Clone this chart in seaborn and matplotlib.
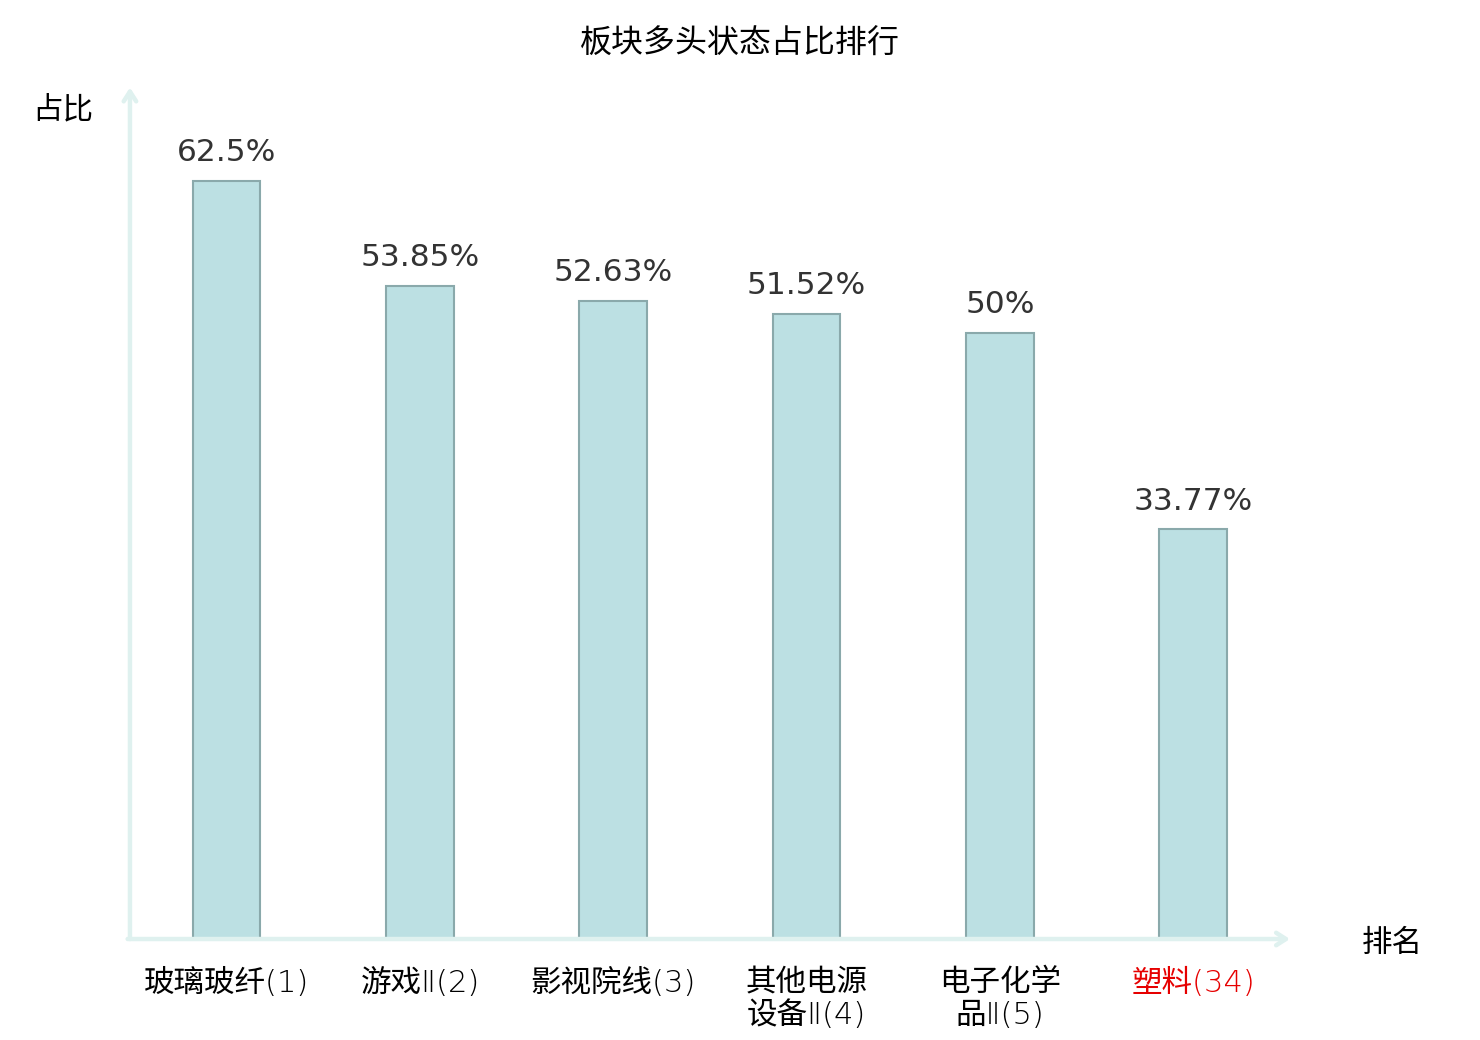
import seaborn as sns
import matplotlib.pyplot as plt
import pandas as pd

# bull-state share by sector, ranked
sectors = ["玻璃玻纤(1)", "游戏Ⅱ(2)", "影视院线(3)", "其他电源\n设备Ⅱ(4)", "电子化学\n品Ⅱ(5)", "塑料(34)"]
shares = [62.5, 53.85, 52.63, 51.52, 50.0, 33.77]
share_labels = ["62.5%", "53.85%", "52.63%", "51.52%", "50%", "33.77%"]

sns.set_style("white")
plt.rcParams["font.family"] = ["Noto Sans CJK SC", "DejaVu Sans"]

AXIS_COLOR = "#dff1ef"
BAR_COLOR = "#bce0e3"
EDGE_COLOR = "#8aa9ab"

df = pd.DataFrame({"sector": sectors, "share": shares})

fig = plt.figure(figsize=(14.8, 10.4), dpi=100)
ax = fig.add_axes([0.0878, 0.0971, 0.7838, 0.8163])

sns.barplot(
    data=df,
    x="sector",
    y="share",
    color=BAR_COLOR,
    saturation=1,
    width=0.35,
    edgecolor=EDGE_COLOR,
    linewidth=1.5,
    ax=ax,
)

ax.set_xlim(-0.5, 5.5)
ax.set_ylim(0, 70)

# value labels above bars
for i, (v, lab) in enumerate(zip(shares, share_labels)):
    ax.annotate(
        lab,
        (i, v),
        xytext=(0, 10),
        textcoords="offset points",
        ha="center",
        va="bottom",
        fontsize=22.5,
        color="#333333",
        family=["DejaVu Sans"],
    )

for s in ax.spines.values():
    s.set_visible(False)
ax.set_yticks([])
ax.set_xlabel("")
ax.set_ylabel("")
ax.tick_params(axis="x", length=0, pad=21, colors="black")
for t in ax.get_xticklabels():
    t.set_linespacing(1.15)
    t.set_fontsize(22)
    t.set_family(["DejaVu Sans", "Noto Sans CJK SC"])
    t.set_fontweight(200)
ax.get_xticklabels()[-1].set_color("#e60000")

# axis arrows
arrow = dict(arrowstyle="->,head_length=0.7,head_width=0.45", color=AXIS_COLOR, lw=3.2,
             shrinkA=0, shrinkB=0)
ax.annotate("", xy=(0, 1.003), xytext=(0, 0), xycoords="axes fraction",
            textcoords="axes fraction", arrowprops=arrow, annotation_clip=False)
ax.annotate("", xy=(1.0, 0), xytext=(-0.002, 0), xycoords="axes fraction",
            textcoords="axes fraction", arrowprops=arrow, annotation_clip=False)

fig.text(0.0426, 0.894, "占比", fontsize=22, ha="center", va="center", color="black")
fig.text(0.9405, 0.093, "排名", fontsize=22, ha="center", va="center", color="black")
fig.text(0.5, 0.958, "板块多头状态占比排行", fontsize=23, ha="center", va="center", color="black")

fig.savefig("out.png", dpi=100)
